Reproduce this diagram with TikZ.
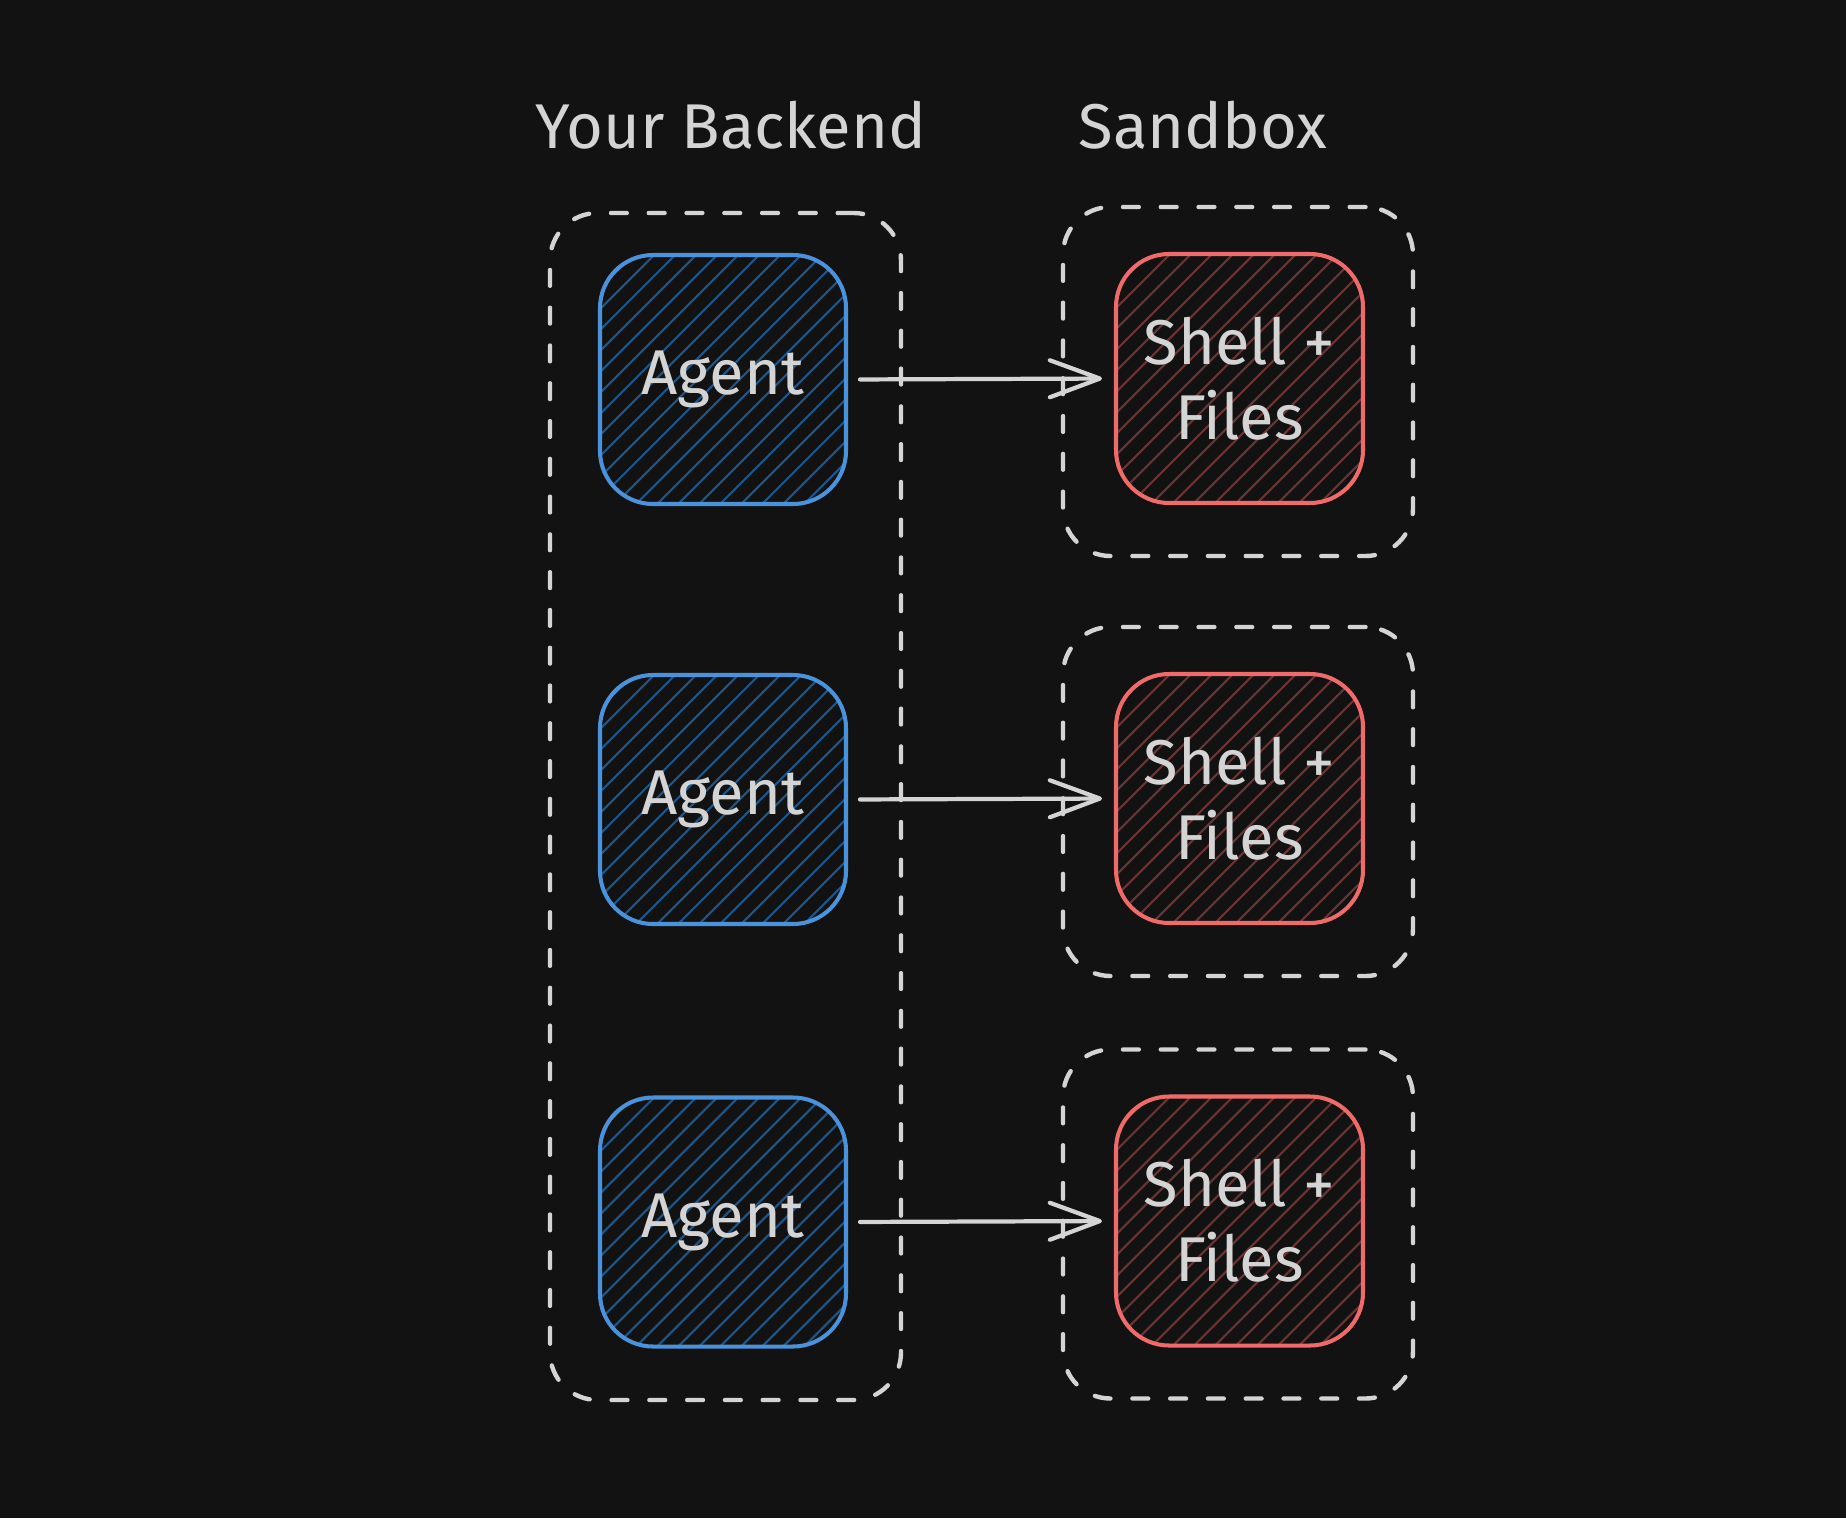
\documentclass[tikz,border=0pt]{standalone}
\usepackage{fontspec}
\setmainfont{Fira Sans}
\usetikzlibrary{arrows.meta}
\definecolor{bgdark}{HTML}{121212}
\definecolor{inkgray}{HTML}{D4D4D4}
\definecolor{agentblue}{HTML}{4A92DC}
\definecolor{hatchblue}{HTML}{1F5587}
\definecolor{shellred}{HTML}{F06A6A}
\definecolor{hatchred}{HTML}{6A3434}
\tikzset{
    heading/.style={text=inkgray, font=\fontsize{36}{40}\selectfont},
    dashbox/.style={draw=inkgray, line width=2.5pt, line cap=round,
        dash pattern=on 9pt off 12.5pt, rounded corners=0.95cm, inner sep=0pt},
    hatched/.style={path picture={
        \foreach \k in {-6,-5.58,...,6}
            \draw [#1, line width=1.2pt]
                ([xshift=\k cm]path picture bounding box.south west) -- ++(6,6);}},
    agentbox/.style={draw=agentblue, line width=2.3pt, rounded corners=1.06cm,
        minimum width=4.92cm, minimum height=4.98cm, inner sep=0pt, hatched=hatchblue,
        text=inkgray, font=\fontsize{36}{42.7}\selectfont, align=center},
    shellbox/.style={agentbox, draw=shellred, hatched=hatchred, minimum width=4.94cm},
    callarrow/.style={draw=inkgray, line width=2.4pt, line cap=round,
        shorten <=0.24cm, shorten >=0.24cm,
        -{Straight Barb[length=1.0cm,width=0.74cm,round]}}
}
\begin{document}
\begin{tikzpicture}
        \fill 
            [bgdark] (0,0) rectangle (36.92,-30.36);
        \useasboundingbox 
            (0,0) rectangle (36.92,-30.36);
        % column titles
        \node 
            [heading] (backendlabel) at (14.62,-2.5) {Your Backend};
        \node 
            [heading] (sandboxlabel) at (24.06,-2.5) {Sandbox};
        % dashed frames
        \node 
            [dashbox, minimum width=7.02cm, minimum height=23.74cm] (backend) at (14.51,-16.13) {};
        \foreach \i/\y in {1/-7.63, 2/-16.03, 3/-24.48}
            \node 
                [dashbox, minimum width=7.0cm, minimum height=6.98cm] (sandbox\i) at (24.76,\y) {};
        % agents and sandboxes
        \foreach \i/\y in {1/-7.59, 2/-15.99, 3/-24.44}
            \node 
                [agentbox] (agent\i) at (14.46,\y) {Agent};
        \foreach \i/\y in {1/-7.57, 2/-15.97, 3/-24.42}
            \node 
                [shellbox] (shell\i) at (24.79,\y) {Shell +\\Files};
        % calls
        \foreach \i in {1,2,3}
            \draw 
                [callarrow] (agent\i.east) -- (shell\i.west);
    \end{tikzpicture}
\end{document}
